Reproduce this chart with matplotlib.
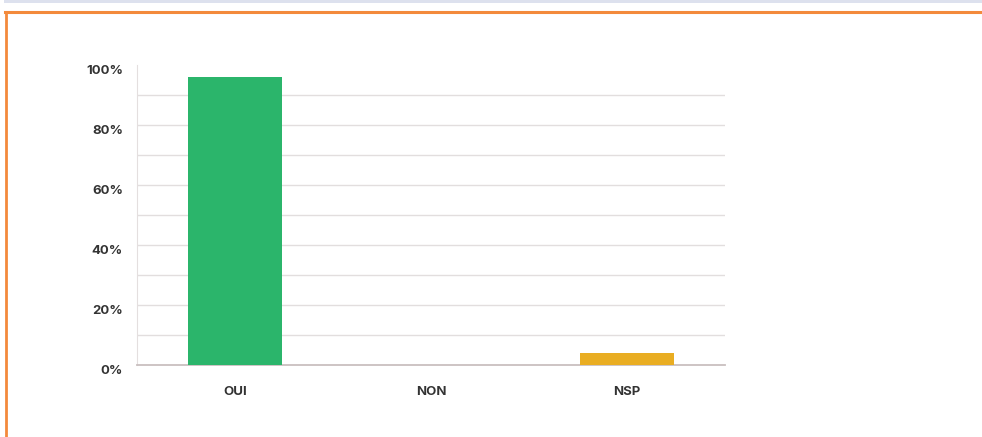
import matplotlib.pyplot as plt
from matplotlib.patches import Rectangle
from matplotlib.lines import Line2D

# survey answers (% of respondents)
categories = ["OUI", "NON", "NSP"]
values = [96, 0, 4]
bar_colors = ["#2bb56b", "#9aa0a6", "#e9ad22"]
yticks = [0, 20, 40, 60, 80, 100]
ytick_labels = ["0%", "20%", "40%", "60%", "80%", "100%"]

plt.rcParams["font.family"] = ["Inter", "DejaVu Sans"]

fig = plt.figure(figsize=(9.82, 4.37), dpi=100)

# page decoration: pale strip on top and orange frame
fig.patches.append(Rectangle((4/982, 1 - 3/437), 1, 3/437, transform=fig.transFigure,
                             color="#dde1ee", lw=0))
fig.lines.append(Line2D([5/982, 1], [1 - 12/437, 1 - 12/437], transform=fig.transFigure,
                        color="#f38a3c", lw=2.2))
fig.lines.append(Line2D([6/982, 6/982], [0, 1 - 12/437], transform=fig.transFigure,
                        color="#f38a3c", lw=2.0))

ax = fig.add_axes([137/982, 1 - 365/437, 588/982, 300/437])
x = range(len(categories))
ax.bar(x, values, width=0.475, color=bar_colors, zorder=3)

ax.set_xlim(-0.5, len(categories) - 0.5)
ax.set_ylim(0, 100)
# light guides every 10%, none on the top edge
for g in range(10, 100, 10):
    ax.axhline(g, color="#e2dede", lw=1.0, zorder=0)
ax.set_yticks(yticks)
ax.set_yticklabels(ytick_labels)
ax.set_xticks(list(x))
ax.set_xticklabels(categories)

ax.tick_params(axis="both", which="both", length=0, labelsize=9.5, labelcolor="#333333")
ax.tick_params(axis="x", pad=15)
ax.tick_params(axis="y", pad=10)
for lab in ax.get_xticklabels() + ax.get_yticklabels():
    lab.set_fontweight("bold")
for lab in ax.get_yticklabels():
    lab.set_verticalalignment("top")

for side in ["top", "right"]:
    ax.spines[side].set_visible(False)
ax.spines["left"].set_color("#e4dfdf")
ax.spines["bottom"].set_color("#c9bfbf")
ax.spines["bottom"].set_linewidth(1.3)

plt.savefig("out.png", dpi=100)
